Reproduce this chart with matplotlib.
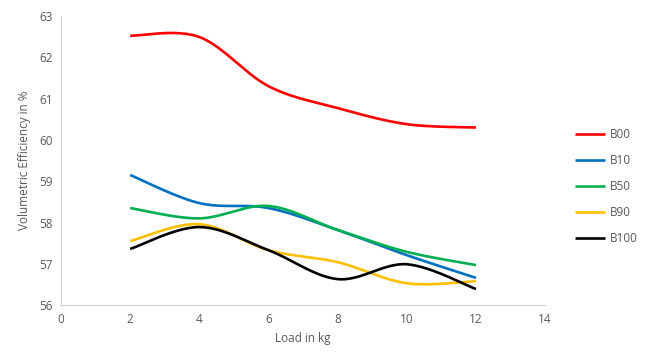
import numpy as np
import matplotlib
matplotlib.use("Agg")
import matplotlib.pyplot as plt

# data
load = [2, 4, 6, 8, 10, 12]
b00 = [62.52, 62.49, 61.30, 60.77, 60.38, 60.30]
b10 = [59.15, 58.47, 58.35, 57.82, 57.21, 56.66]
b50 = [58.35, 58.10, 58.40, 57.82, 57.29, 56.97]
b90 = [57.55, 57.96, 57.33, 57.04, 56.53, 56.58]
b100 = [57.36, 57.89, 57.33, 56.63, 56.99, 56.39]
series_names = ["B00", "B10", "B50", "B90", "B100"]
colors = ["#FF0000", "#0070C0", "#00B050", "#FFC000", "#000000"]


def smooth(x, y, n=30):
    # Excel-like smoothed line: catmull-rom bezier through the points
    x = np.asarray(x, float)
    y = np.asarray(y, float)
    px = np.concatenate([[x[0]], x, [x[-1]]])
    py = np.concatenate([[y[0]], y, [y[-1]]])
    xs, ys = [], []
    t = np.linspace(0, 1, n)
    for i in range(1, len(px) - 2):
        p0 = np.array([px[i], py[i]])
        p3 = np.array([px[i + 1], py[i + 1]])
        c1 = p0 + (np.array([px[i + 1], py[i + 1]]) - np.array([px[i - 1], py[i - 1]])) / 6
        c2 = p3 - (np.array([px[i + 2], py[i + 2]]) - np.array([px[i], py[i]])) / 6
        b = ((1 - t) ** 3)[:, None] * p0 + (3 * (1 - t) ** 2 * t)[:, None] * c1 \
            + (3 * (1 - t) * t ** 2)[:, None] * c2 + (t ** 3)[:, None] * p3
        xs.extend(b[:, 0])
        ys.extend(b[:, 1])
    return xs, ys


plt.rcParams["font.family"] = ["Open Sans", "DejaVu Sans"]

fig = plt.figure(figsize=(6.52, 3.54), dpi=100)
ax = fig.add_axes([0.0936, 0.138, 0.7424, 0.817])

for name, vals, c in zip(series_names, [b00, b10, b50, b90, b100], colors):
    sx, sy = smooth(load, vals)
    ax.plot(sx, sy, color=c, lw=1.9, label=name, solid_capstyle="butt")

ax.set_xlim(0, 14)
ax.set_ylim(56, 63)
ax.set_xticks(range(0, 15, 2))
ax.set_yticks(range(56, 64))
for s in ["top", "right"]:
    ax.spines[s].set_visible(False)
for s in ["left", "bottom"]:
    ax.spines[s].set_color("#D0D0D0")
ax.tick_params(length=0, colors="#595959", labelsize=8.5, pad=6)
ax.set_xlabel("Load in kg", color="#595959", fontsize=8.5, labelpad=4)
ax.set_ylabel("Volumetric Efficiency in %", color="#595959", fontsize=8.5, labelpad=6)

leg = ax.legend(loc="center left", bbox_to_anchor=(1.039, 0.41), frameon=False,
                fontsize=8.5, handlelength=2.6, labelspacing=1.1, handletextpad=0.4)
for t in leg.get_texts():
    t.set_color("#595959")

fig.savefig("out.png", dpi=100)
